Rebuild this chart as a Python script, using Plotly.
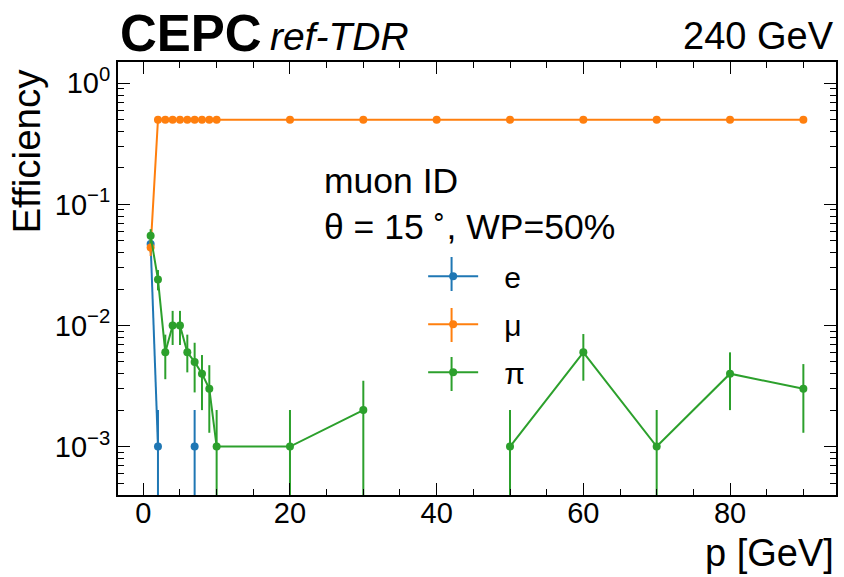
import plotly.graph_objects as go

# ---------------- data ----------------
p_gev = [1, 2, 3, 4, 5, 6, 7, 8, 9, 10, 20, 30, 40, 50, 60, 70, 80, 90]

eff_e = [0.047, 0.001, None, None, None, None, 0.001, None, None, None,
         None, None, None, None, None, None, None, None]
err_e_up = [0.0069, 0.001, 0, 0, 0, 0, 0.001, 0, 0, 0, 0, 0, 0, 0, 0, 0, 0, 0]
err_e_dn = [0.0069, 0.000999, 0, 0, 0, 0, 0.000999, 0, 0, 0, 0, 0, 0, 0, 0, 0, 0, 0]

eff_mu = [0.044, 0.5, 0.5, 0.5, 0.5, 0.5, 0.5, 0.5, 0.5, 0.5,
          0.5, 0.5, 0.5, 0.5, 0.5, 0.5, 0.5, 0.5]
err_mu = [0.0065, 0.0158, 0.0158, 0.0158, 0.0158, 0.0158, 0.0158, 0.0158, 0.0158, 0.0158,
          0.0158, 0.0158, 0.0158, 0.0158, 0.0158, 0.0158, 0.0158, 0.0158]

eff_pi = [0.055, 0.024, 0.006, 0.010, 0.010, 0.006, 0.005, 0.004, 0.003, 0.001,
          0.001, 0.002, None, 0.001, 0.006, 0.001, 0.004, 0.003]
err_pi_up = [0.0074, 0.0047, 0.0024, 0.0032, 0.0032, 0.0024, 0.0022, 0.0017, 0.0017, 0.001,
             0.001, 0.0015, 0, 0.001, 0.0025, 0.001, 0.002, 0.0018]
err_pi_dn = [0.0074, 0.0045, 0.0024, 0.0031, 0.0031, 0.0019, 0.0022, 0.002, 0.0017, 0.000999,
             0.000999, 0.00199, 0, 0.000999, 0.0025, 0.000999, 0.002, 0.0017]

labels = ["e", "μ", "π"]
colors = ["#1f77b4", "#ff7f0e", "#2ca02c"]

x_ticks = [0, 20, 40, 60, 80]
y_ticks = [1e-3, 1e-2, 1e-1, 1]
y_ticktext = ["10<sup>−3</sup>", "10<sup>−2</sup>", "10<sup>−1</sup>", "10<sup>0</sup>"]

FONT = "Liberation Sans, Arial, Helvetica, sans-serif"

fig = go.Figure()

series = [
    (eff_e, err_e_up, err_e_dn),
    (eff_mu, err_mu, err_mu),
    (eff_pi, err_pi_up, err_pi_dn),
]
for (vals, eu, ed), name, col in zip(series, labels, colors):
    fig.add_trace(go.Scatter(
        x=p_gev, y=vals, name="\u2002\u2009" + name, mode="lines+markers",
        line=dict(color=col, width=2),
        marker=dict(color=col, size=8),
        error_y=dict(type="data", array=eu, arrayminus=ed, symmetric=False,
                     color=col, thickness=2, width=0),
        legendgroup=name,
        connectgaps=False,
    ))

minor_y = [m * 10 ** k for k in range(-4, 1) for m in range(2, 10)]

# plot-area geometry in pixels (used only to place the legend error-bar glyphs)
PL, PR, PT, PB = 118, 838, 62, 495
def px_x(v):
    return (v - PL) / (PR - PL)
def px_y(v):
    return (PB - v) / (PB - PT)

fig.update_layout(
    width=844, height=577,
    margin=dict(l=PL, r=844 - PR, t=PT, b=577 - PB),
    paper_bgcolor="white", plot_bgcolor="white",
    font=dict(family=FONT, color="black", size=29),
    showlegend=True,
    legend=dict(
        x=0.425, y=0.565, xanchor="left", yanchor="top",
        font=dict(size=30, family=FONT),
        bgcolor="rgba(0,0,0,0)",
        tracegroupgap=6,
        itemwidth=50,
    ),
    xaxis=dict(
        range=[-3.45, 94.45],
        tickvals=x_ticks,
        ticks="inside", ticklen=12, tickwidth=1.2, tickcolor="black",
        showline=True, linewidth=2, linecolor="black", mirror="ticks",
        showgrid=False, zeroline=False,
        tickfont=dict(size=29),
        ticklabelstandoff=-9,
        minor=dict(dtick=5, ticks="inside", ticklen=6, tickwidth=1.2,
                   tickcolor="black", showgrid=False),
    ),
    yaxis=dict(
        type="log",
        range=[-3.4, 0.176],
        tickvals=y_ticks, ticktext=y_ticktext,
        ticks="inside", ticklen=12, tickwidth=1.2, tickcolor="black",
        showline=True, linewidth=2, linecolor="black", mirror="ticks",
        showgrid=False, zeroline=False,
        tickfont=dict(size=29),
        minor=dict(tickvals=minor_y, ticks="inside", ticklen=6, tickwidth=1.2,
                   tickcolor="black", showgrid=False),
    ),
)

# vertical error-bar strokes on the legend glyphs
legend_rows_px = [274, 325, 374]
shapes = []
for row, col in zip(legend_rows_px, colors):
    shapes.append(dict(type="line", xref="paper", yref="paper",
                       x0=px_x(452.5), x1=px_x(452.5),
                       y0=px_y(row - 17), y1=px_y(row + 17),
                       line=dict(color=col, width=2)))
fig.update_layout(shapes=shapes)

ann = []
ann.append(dict(text="<b>CEPC</b>", xref="paper", yref="paper", x=0.0, y=1.065,
                xanchor="left", yanchor="middle", showarrow=False,
                font=dict(size=51, family=FONT)))
ann.append(dict(text="<i>ref-TDR</i>", xref="paper", yref="paper", x=0.209, y=1.06,
                xanchor="left", yanchor="middle", showarrow=False,
                font=dict(size=39, family=FONT)))
ann.append(dict(text="240 GeV", xref="paper", yref="paper", x=1.0, y=1.06,
                xanchor="right", yanchor="middle", showarrow=False,
                font=dict(size=38, family=FONT)))
ann.append(dict(text="Efficiency", xref="paper", yref="paper", x=-0.128, y=1.0,
                xanchor="center", yanchor="top", textangle=-90, showarrow=False,
                yshift=-5, font=dict(size=38.5, family=FONT)))
ann.append(dict(text="p [GeV]", xref="paper", yref="paper", x=1.0, y=-0.135,
                xanchor="right", yanchor="middle", showarrow=False,
                font=dict(size=38, family=FONT)))
ann.append(dict(text="muon ID<br>θ = 15<sup> ∘</sup>, WP=50%", xref="paper", yref="paper",
                x=0.284, y=0.672, xanchor="left", yanchor="middle", align="left",
                showarrow=False, font=dict(size=35.5, family=FONT)))
fig.update_layout(annotations=ann)

fig.write_html("out.html")
